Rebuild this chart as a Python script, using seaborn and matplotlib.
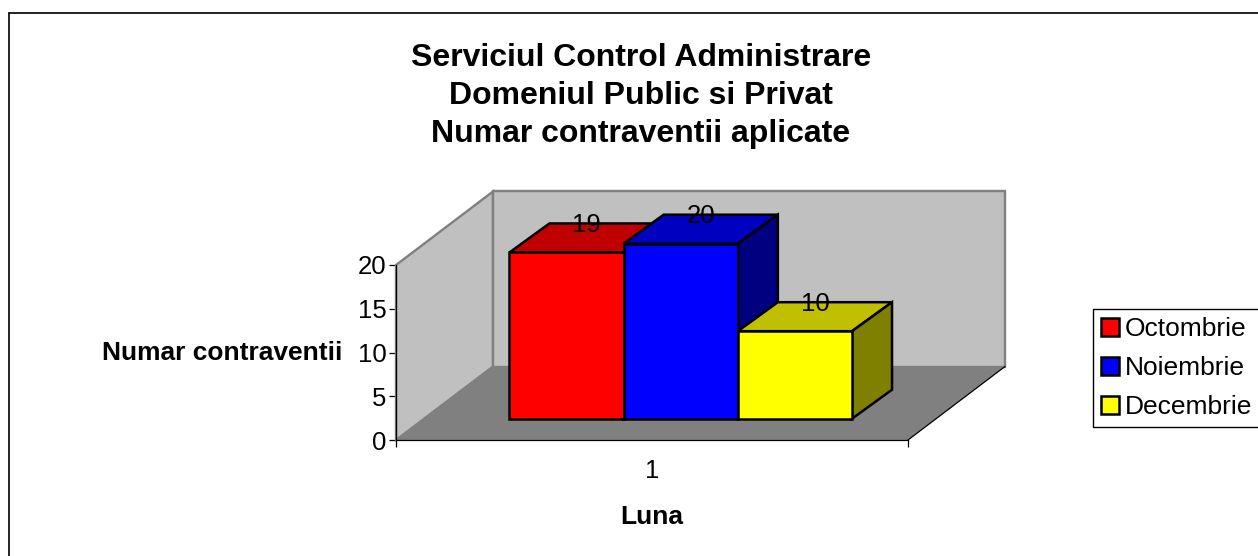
import matplotlib
matplotlib.use("Agg")
import matplotlib.pyplot as plt
from matplotlib.lines import Line2D
from matplotlib.patches import Polygon
import pandas as pd
import seaborn as sns

# ---- data ----
months = ["Octombrie", "Noiembrie", "Decembrie"]
counts = [19, 20, 10]
category_label = "1"
title_lines = ["Serviciul Control Administrare", "Domeniul Public si Privat", "Numar contraventii aplicate"]
y_ticks = [0, 5, 10, 15, 20]

# ---- styles ----
front_colors = ["#FF0000", "#0000FF", "#FFFF00"]
top_colors = ["#C00000", "#0000C0", "#C0C000"]
side_colors = ["#800000", "#000080", "#808000"]
W, H = 1258, 556
FONT = ["Liberation Sans", "DejaVu Sans"]

sns.set_theme(style="ticks")
plt.rcParams["font.family"] = FONT
plt.rcParams["text.color"] = "black"
plt.rcParams["xtick.color"] = "black"
plt.rcParams["ytick.color"] = "black"

fig = plt.figure(figsize=(W / 100, H / 100), dpi=100, facecolor="white")
L, R, B, T = 396, 908, 440, 265
ax = fig.add_axes([L / W, 1 - B / H, (R - L) / W, (B - T) / H])
ax.patch.set_visible(False)

df = pd.DataFrame({"cat": [category_label] * 3, "month": months, "value": counts})
sns.barplot(data=df, x="cat", y="value", hue="month", hue_order=months, palette=front_colors,
            saturation=1, width=0.669, gap=0, edgecolor="black", linewidth=1.8, ax=ax, errorbar=None)

x_center_px = 680.75
xlim = ((L - x_center_px) / (R - L), (R - x_center_px) / (R - L))
ax.set_xlim(*xlim)
ax.set_ylim(0, 20)
px_x = 1 / (R - L)
px_y = 20 / (B - T)

# floor and walls, sheared by the chart's depth
wall_dx, wall_dy = 97 * px_x, 73.5 * px_y
x0, x1 = xlim
wall = dict(facecolor="#C0C0C0", edgecolor="#808080", linewidth=1.7, clip_on=False, zorder=1, joinstyle="miter")
ax.add_patch(Polygon([(x0, 0), (x0, 20), (x0 + wall_dx, 20 + wall_dy), (x0 + wall_dx, wall_dy)], **wall))
ax.add_patch(Polygon([(x0 + wall_dx, wall_dy), (x0 + wall_dx, 20 + wall_dy), (x1 + wall_dx, 20 + wall_dy), (x1 + wall_dx, wall_dy)], **wall))
ax.add_patch(Polygon([(x0, 0), (x1, 0), (x1 + wall_dx, wall_dy), (x0 + wall_dx, wall_dy)],
                     facecolor="#808080", edgecolor="none", clip_on=False, zorder=1.5))
ax.add_line(Line2D([x1, x1 + wall_dx], [0, wall_dy], color="black", linewidth=0.9, clip_on=False, zorder=1.6))

# bars: lifted on the floor, with top and side faces
floor_y = 21.3 * px_y
dx, dy = 40 * px_x, 29 * px_y
bars = list(ax.patches)[:3]
face = dict(edgecolor="black", linewidth=1.8, clip_on=False, joinstyle="miter")
for i, (bar, value) in enumerate(zip(bars, counts)):
    bar.set_y(floor_y)
    bar.set_clip_on(False)
    bar.set_zorder(3 + i + 0.2)
    bx, bw = bar.get_x(), bar.get_width()
    top = floor_y + value
    ax.add_patch(Polygon([(bx, top), (bx + bw, top), (bx + bw + dx, top + dy), (bx + dx, top + dy)],
                         facecolor=top_colors[i], zorder=3 + i, **face))
    ax.add_patch(Polygon([(bx + bw, floor_y), (bx + bw + dx, floor_y + dy), (bx + bw + dx, top + dy), (bx + bw, top)],
                         facecolor=side_colors[i], zorder=3 + i, **face))
    ax.text(bx + bw / 2 + dx / 2, top + dy - 1.5 * px_y, str(value), ha="center", va="center",
            fontsize=18.5, color="black", zorder=10)

# axes
sns.despine(ax=ax, top=True, right=True)
for side in ("left", "bottom"):
    ax.spines[side].set_color("black")
    ax.spines[side].set_linewidth(0.9)
    ax.spines[side].set_zorder(2)
ax.set_yticks(y_ticks)
ax.tick_params(axis="y", labelsize=18.5, length=5, width=0.9, pad=2)
ax.set_xticks([x0, x1], ["", ""])
ax.set_xticks([(x0 + x1) / 2], [category_label], minor=True)
ax.tick_params(axis="x", which="major", length=5, width=0.9)
ax.tick_params(axis="x", which="minor", length=0, labelsize=18.5, pad=14)
ax.set_xlabel("")
ax.set_ylabel("")

fig.text(342 / W, 1 - 353.5 / H, "Numar contraventii", ha="right", va="center", fontsize=19, fontweight="bold")
fig.text(652 / W, 1 - 517 / H, "Luna", ha="center", va="center", fontsize=19, fontweight="bold")
fig.text(641 / W, 1 - 96 / H, "\n".join(title_lines), ha="center", va="center", fontsize=23,
         fontweight="bold", linespacing=1.36)

# legend (runs off the right edge, as in the source)
handles, labels = ax.get_legend_handles_labels()
leg = ax.legend(handles, labels, loc="upper left", bbox_to_anchor=(1093 / W, 1 - 309 / H),
                bbox_transform=fig.transFigure, fontsize=19, frameon=True, fancybox=False,
                edgecolor="black", framealpha=1, borderaxespad=0, borderpad=0.32,
                handlelength=0.66, handleheight=0.66, handletextpad=0.24, labelspacing=0.56)
leg.get_frame().set_linewidth(1)
leg.set_zorder(20)
for h in leg.legend_handles:
    h.set_edgecolor("black")
    h.set_linewidth(1.8)

# outer chart border: only top and left fall inside the picture
fig.add_artist(Line2D([9 / W, 9 / W], [0, 1 - 13 / H], color="black", linewidth=1.2))
fig.add_artist(Line2D([9 / W, 1], [1 - 13 / H, 1 - 13 / H], color="black", linewidth=1.2))

fig.savefig("out.png", dpi=100)
